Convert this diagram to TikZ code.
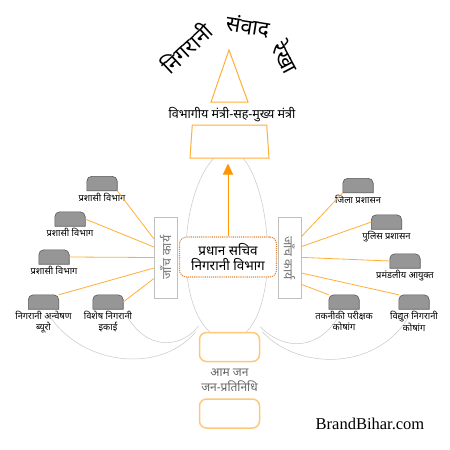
\documentclass[tikz,border=0pt]{standalone}
\usepackage{fontspec}
\usepackage{graphicx}
\setmainfont{Liberation Serif}
\newfontfamily\hindi[Script=Devanagari]{Noto Sans}
\usetikzlibrary{shapes.geometric,arrows.meta,positioning}
\definecolor{mOrange}{RGB}{255,175,55}
\definecolor{mArrow}{RGB}{255,150,0}
\definecolor{mPale}{RGB}{255,200,120}
\definecolor{mBrown}{RGB}{225,135,55}
\definecolor{mGrey}{RGB}{200,200,200}
\definecolor{mCap}{RGB}{150,150,150}
\tikzstyle{line} = [draw, line width=.8pt, mOrange]
\tikzstyle{gline} = [draw, line width=.5pt, mGrey]
\tikzstyle{aline} = [draw, -{Triangle[length=11pt,width=10pt]}, line width=1pt, mArrow]

\begin{document}
\begin{tikzpicture}[
    x=1pt, y=-1pt,
    title/.style={
      font=\hindi\fontsize{21.5}{22}\selectfont,
      inner sep=0pt,
    },
    capbox/.style={
      minimum width=30pt,
      minimum height=14pt,
      inner sep=0pt,
    },
    capline/.style={
      draw=black!65,
      fill=mCap,
      line width=.6pt,
    },
    lbl/.style={
      font=\hindi\fontsize{9.3}{10.5}\selectfont,
      align=center,
      inner sep=1pt,
    },
    probe/.style={
      draw=black!25,
      fill=white,
      minimum width=23pt,
      minimum height=81pt,
      inner sep=0pt,
      text=black!55,
      font=\hindi\fontsize{12.5}{13}\selectfont,
    },
    pubbox/.style={
      draw=mPale,
      line width=1.5pt,
      rounded corners=7pt,
      minimum width=60pt,
      minimum height=29pt,
    },
  ]
  \useasboundingbox[fill=white] (0,0) rectangle (450,450);

  % title
  \node[title,rotate=43] (tword1) at (186,48) {निगरानी};
  \node[title,rotate=-9] (tword2) at (248,26) {संवाद};
  \node[title,rotate=-62] (tword3) at (286,57) {रेखा};

  \draw[mOrange,line width=1pt] (229,50) -- (248,102) -- (211,102) -- cycle;
  \node[lbl,font=\hindi\fontsize{12.5}{13}\selectfont] (mlabel) at (232,115)
    {विभागीय मंत्री-सह-मुख्य मंत्री};
  \node[draw=mOrange,line width=1pt,trapezium,trapezium left angle=71,
    trapezium right angle=71,trapezium stretches body,
    minimum width=79pt,minimum height=33pt] (minister) at (229.5,141.5) {};

  % bottom
  \node[pubbox] (public) at (229.5,347) {};
  \node[lbl,text=black!60,font=\hindi\fontsize{12}{15}\selectfont] (publbl)
    at (229.5,380) {आम जन\\जन-प्रतिनिधि};
  \node[pubbox] (public2) at (229.5,413.5) {};

  % grey loops
  \path[gline] ([xshift=-16pt]minister.south)
     .. controls (180,195) and (175,300) .. ([xshift=-20pt]public.north);
  \path[gline] ([xshift=14pt]minister.south)
     .. controls (272,195) and (278,300) .. ([xshift=17pt]public.north);

  \node[draw=mBrown,line width=1.1pt,densely dotted,rounded corners=7pt,fill=white,
    minimum width=97pt,minimum height=40pt,align=center,
    font=\hindi\fontsize{13.5}{15}\selectfont] (chief) at (228,257)
    {प्रधान सचिव\\निगरानी विभाग};
  \draw[aline] (chief.north) -- ([yshift=-5pt]chief.north |- minister.south);

  \node[probe] (probeL) at (165.5,257.5) {\rotatebox{90}{जाँच कार्य}};
  \node[probe] (probeR) at (289.5,258) {\rotatebox{-90}{जाँच कार्य}};

  % left side
  \node[capbox] (capL1) at (102,183.5) {};
  \node[capbox] (capL2) at (70,219) {};
  \node[capbox] (capL3) at (54,257) {};
  \node[capbox] (capL4) at (43.5,302) {};
  \node[capbox] (capL5) at (108,302) {};
  \node[lbl,below=1pt of capL1] (lblL1) {प्रशासी विभाग};
  \node[lbl,below=1pt of capL2] (lblL2) {प्रशासी विभाग};
  \node[lbl,below=1pt of capL3] (lblL3) {प्रशासी विभाग};
  \node[lbl,below=1pt of capL4] (lblL4) {निगरानी अन्वेषण\\ब्यूरो};
  \node[lbl,below=1pt of capL5] (lblL5) {विशेष निगरानी\\इकाई};

  % right side
  \node[capbox] (capR1) at (358,185.5) {};
  \node[capbox] (capR2) at (386.5,222) {};
  \node[capbox] (capR3) at (405,261) {};
  \node[capbox] (capR4) at (344,302) {};
  \node[capbox] (capR5) at (414,302) {};
  \node[lbl,below=1pt of capR1] (lblR1) {जिला प्रशासन};
  \node[lbl,below=1pt of capR2] (lblR2) {पुलिस प्रशासन};
  \node[lbl,below=1pt of capR3] (lblR3) {प्रमंडलीय आयुक्त};
  \node[lbl,below=1pt of capR4] (lblR4) {तकनीकी परीक्षक\\कोषांग};
  \node[lbl,below=1pt of capR5] (lblR5) {विद्युत निगरानी\\कोषांग};

  \foreach \c in {capL1,capL2,capL3,capL4,capL5,capR1,capR2,capR3,capR4,capR5}
    \draw[capline] (\c.south west) [rounded corners=5pt] -- (\c.north west)
      -- (\c.north east) [sharp corners] -- (\c.south east) -- cycle;

  \draw[line] (probeL.122) -- (capL1.south east);
  \draw[line] (probeL.138) -- (capL2.east);
  \draw[line] (probeL.180) -- (capL3.east);
  \draw[line] (probeL.222) -- (capL4.north east);
  \draw[line] (probeL.241) -- (capL5.east);

  \draw[line] (probeR.61) -- (capR1.south west);
  \draw[line] (probeR.44) -- (capR2.west);
  \draw[line] (probeR.3) -- (capR3.west);
  \draw[line] (probeR.-52) -- (capR5.north west);
  \draw[line] (probeR.-66) -- (capR4.north west);

  \path[gline] ([xshift=5pt,yshift=-4pt]lblL4.north)
     .. controls (80,365) and (160,375) .. ([xshift=-3pt]public.north west);
  \path[gline] ([xshift=18pt,yshift=-4pt]lblL5.north)
     .. controls (145,350) and (180,350) .. ([yshift=6pt]public.north west);
  \path[gline] ([xshift=-4pt,yshift=-4pt]lblR4.north)
     .. controls (320,350) and (285,352) .. ([yshift=5pt]public.north east);
  \path[gline] ([xshift=-4pt,yshift=-4pt]lblR5.north)
     .. controls (380,370) and (300,372) .. ([xshift=2pt]public.north east);

  \node[font=\fontsize{16.5}{18}\selectfont] (brand) at (370,424) {BrandBihar.com};
\end{tikzpicture}
\end{document}
